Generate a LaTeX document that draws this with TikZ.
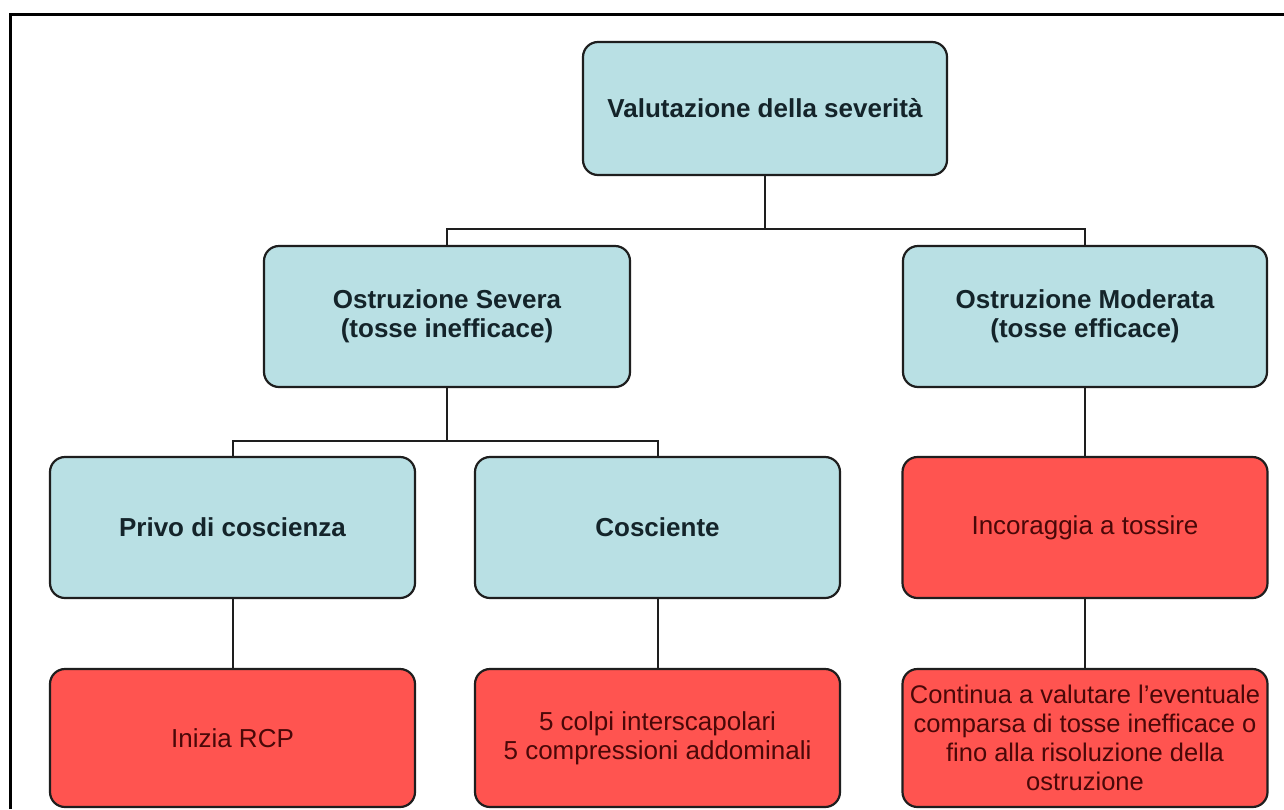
\documentclass[tikz,border=0pt]{standalone}
\usepackage{fontspec}
\setmainfont{Liberation Sans}
\definecolor{boxblue}{HTML}{B9E0E4}
\definecolor{boxred}{HTML}{FF5450}
\definecolor{txtblue}{HTML}{14242A}
\definecolor{txtred}{HTML}{4A0808}
\definecolor{edge}{HTML}{1E1E1E}
\begin{document}
\begin{tikzpicture}[x=1pt,y=-1pt,
  boxbase/.style={draw=edge, line width=2.2pt, rounded corners=15pt, rectangle,
     minimum width=365pt, minimum height=140pt, align=center, inner sep=0pt,
     font=\fontsize{26}{29}\selectfont},
  bluebox/.style={boxbase, fill=boxblue, text=txtblue, font=\fontsize{26}{29}\selectfont\bfseries},
  redbox/.style={boxbase, fill=boxred, text=txtred},
  conn/.style={draw=edge, line width=2pt}]
\useasboundingbox (0,0) rectangle (1284,809);
\fill[white] (0,0) rectangle (1284,809);
\draw[line width=3pt, black] (10,809) -- (10,14) -- (1284,14);

\node[bluebox, minimum height=133pt, minimum width=364pt] (top) at (765,108.5) {Valutazione della severità};
\node[bluebox, minimum height=141pt, minimum width=366pt] (sev) at (447,316.5) {Ostruzione Severa\\(tosse inefficace)};
\node[bluebox, minimum height=141pt, minimum width=364pt] (mod) at (1085,316.5) {Ostruzione Moderata\\(tosse efficace)};
\node[bluebox, minimum height=141pt] (privo) at (232.5,527.5) {Privo di coscienza};
\node[bluebox, minimum height=141pt] (cosc) at (657.5,527.5) {Cosciente};
\node[redbox, minimum height=141pt] (inc) at (1085,527.5) {Incoraggia a tossire};
\node[redbox, minimum height=138pt] (rcp) at (232.5,738) {Inizia RCP};
\node[redbox, minimum height=138pt] (colpi) at (657.5,738) {5 colpi interscapolari\\5 compressioni addominali};
\node[redbox, minimum height=138pt, font=\fontsize{25.5}{29}\selectfont] (cont) at (1085,738) {Continua a valutare l'eventuale\\comparsa di tosse inefficace o\\fino alla risoluzione della\\ostruzione};

\coordinate (bus1) at (765,229);
\coordinate (bus2) at (447,441);
\draw[conn] (top.south) -- (bus1);
\draw[conn] (sev.north) |- (bus1) -| (mod.north);
\draw[conn] (sev.south) -- (bus2);
\draw[conn] (privo.north) |- (bus2) -| (cosc.north);
\draw[conn] (mod.south) -- (inc.north);
\draw[conn] (inc.south) -- (cont.north);
\draw[conn] (privo.south) -- (rcp.north);
\draw[conn] (cosc.south) -- (colpi.north);
\end{tikzpicture}
\end{document}
